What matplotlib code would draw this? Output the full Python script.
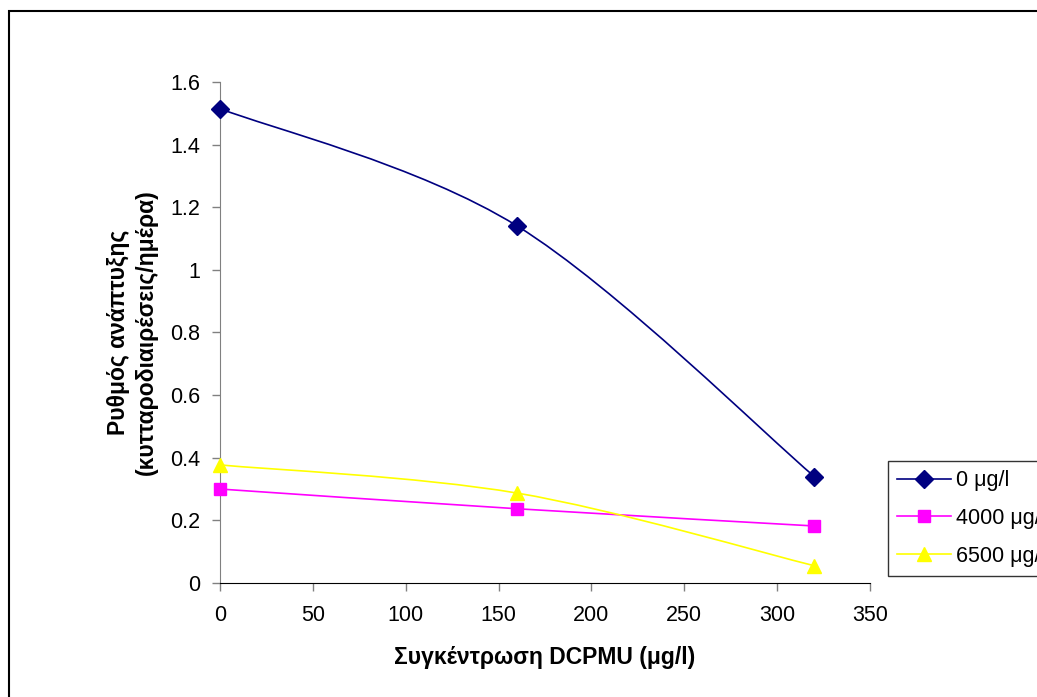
import matplotlib
matplotlib.use("Agg")
import matplotlib.pyplot as plt
from matplotlib.path import Path
from matplotlib.patches import PathPatch, Rectangle
from matplotlib.lines import Line2D
import numpy as np

plt.rcParams["font.family"] = ["Liberation Sans", "DejaVu Sans"]

conc = [0, 160, 320]
series_names = ["0 μg/l", "4000 μg/l", "6500 μg/l"]
rate_0 = [1.515, 1.14, 0.34]
rate_4000 = [0.30, 0.237, 0.182]
rate_6500 = [0.377, 0.287, 0.055]

colors = ["#000080", "#FF00FF", "#FFFF00"]
markers = ["D", "s", "^"]
msizes = [9, 8, 10]


def smooth_path(x, y):
    # excel-like smoothed line: cubic bezier through points (catmull-rom style)
    pts = np.column_stack([x, y]).astype(float)
    n = len(pts)
    verts = [pts[0]]
    codes = [Path.MOVETO]
    for i in range(n - 1):
        p_prev = pts[i - 1] if i > 0 else pts[i]
        p_next = pts[i + 2] if i + 2 < n else pts[i + 1]
        c1 = pts[i] + (pts[i + 1] - p_prev) / 6
        c2 = pts[i + 1] - (p_next - pts[i]) / 6
        verts += [c1, c2, pts[i + 1]]
        codes += [Path.CURVE4] * 3
    return Path(verts, codes)


fig = plt.figure(figsize=(10.37, 6.97), dpi=100)
ax = fig.add_axes([0.2122, 0.1636, 0.839 - 0.2122, 0.8824 - 0.1636])

for ys, c, m, ms in zip([rate_0, rate_4000, rate_6500], colors, markers, msizes):
    ax.add_patch(PathPatch(smooth_path(conc, ys), facecolor="none", edgecolor=c, lw=1.2))
    ax.plot(conc, ys, linestyle="none", marker=m, color=c, markersize=ms,
            markeredgecolor=c, clip_on=False, zorder=3)

ax.set_xlim(0, 350)
ax.set_ylim(0, 1.6)
ax.set_xticks(np.arange(0, 351, 50))
ax.set_yticks([0, 0.2, 0.4, 0.6, 0.8, 1, 1.2, 1.4, 1.6])
ax.set_yticklabels(["0", "0.2", "0.4", "0.6", "0.8", "1", "1.2", "1.4", "1.6"])

ax.spines["top"].set_visible(False)
ax.spines["right"].set_visible(False)
ax.spines["left"].set_color("#808080")
ax.spines["bottom"].set_color("black")
ax.tick_params(axis="both", direction="out", length=6, color="#808080",
               labelsize=15.5, width=1)
ax.tick_params(axis="x", pad=10)
ax.tick_params(axis="y", pad=8)

ax.set_xlabel("Συγκέντρωση DCPMU (μg/l)", fontsize=16.5, fontweight="bold", labelpad=14)
ax.set_ylabel("Ρυθμός ανάπτυξης\n(κυτταροδιαιρέσεις/ημέρα)", fontsize=16.5,
              fontweight="bold", labelpad=9, linespacing=1.3)

handles = [Line2D([], [], color=c, marker=m, markersize=ms, lw=1.2)
           for c, m, ms in zip(colors, markers, msizes)]
leg = fig.legend(handles, series_names, loc="upper left",
                 bbox_to_anchor=(888 / 1037, 1 - 461 / 697), fontsize=15.5,
                 frameon=True, fancybox=False, edgecolor="black", handlelength=2.5,
                 handletextpad=0.22, labelspacing=0.78, borderpad=0.42, borderaxespad=0)
leg.get_frame().set_linewidth(1.0)

fig.patches.append(Rectangle((9 / 1037, -0.1), 1.2, 1.1 - 11 / 697,
                             transform=fig.transFigure, fill=False,
                             edgecolor="black", lw=1.5))

fig.savefig("out.png", dpi=100)
